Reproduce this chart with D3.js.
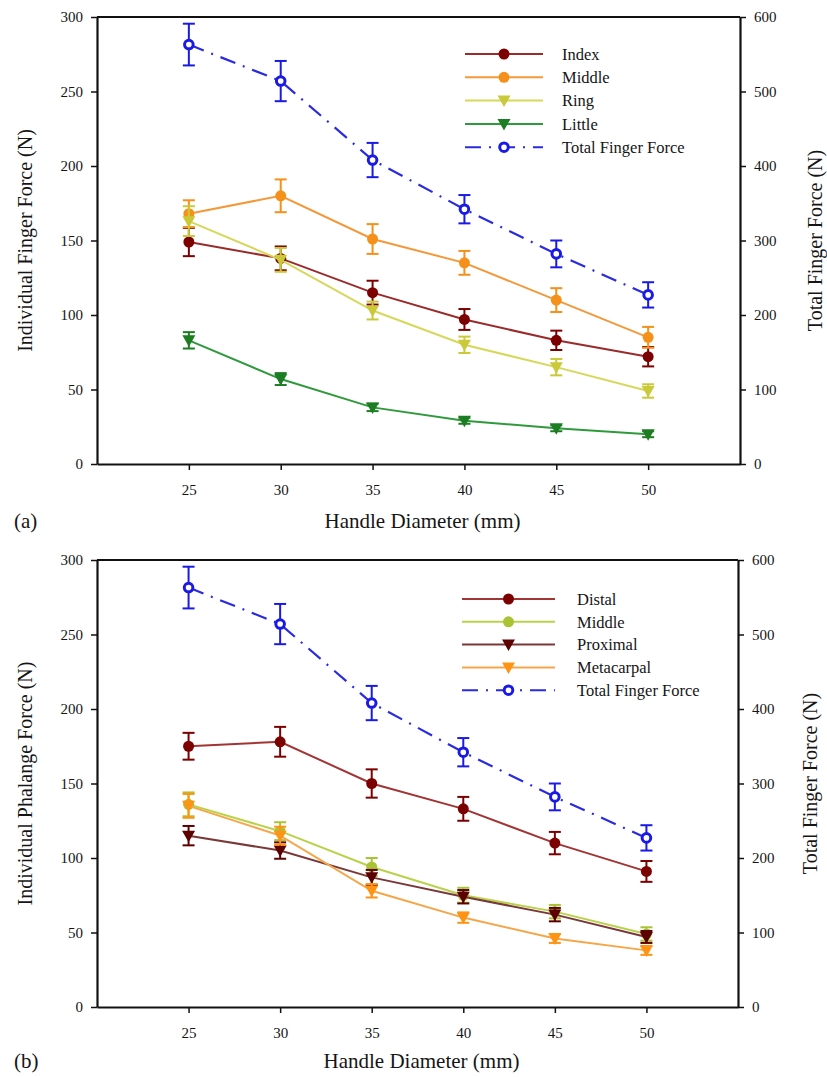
<!DOCTYPE html>
<html>
<head>
<meta charset="utf-8">
<script src="https://cdn.jsdelivr.net/npm/d3@7"></script>
<style>
  body { margin: 0; background: #fff; }
</style>
</head>
<body>
<svg id="chart" width="827" height="1077"></svg>
<script>
// ---- data ----
var diameters = [25, 30, 35, 40, 45, 50];

// panel (a): individual finger forces
var indexForce = [149, 138, 115, 97, 83, 72];
var indexErr = [9.5, 8, 8, 7, 6.5, 6.5];
var middleForce = [168, 180, 151, 135, 110, 85];
var middleErr = [9, 11, 10, 8, 8, 7];
var ringForce = [163, 137, 103, 80, 65, 49];
var ringErr = [10, 8, 6, 5.5, 5.5, 4.5];
var littleForce = [83, 57, 38, 29, 24, 20];
var littleErr = [5.5, 4, 2.5, 2, 2, 2];

// total finger force (right axis, both panels)
var totalForce = [563, 514, 408, 342, 282, 227];
var totalErr = [28, 27, 23, 19, 18, 17];

// panel (b): phalange forces
var distalForce = [175, 178, 150, 133, 110, 91];
var distalErr = [9, 10, 9.5, 8, 7.5, 7];
var middlePhForce = [136, 118, 94, 75, 64, 49];
var middlePhErr = [8, 6, 6, 5, 4.5, 4.5];
var proximalForce = [115, 105, 87, 74, 62, 47];
var proximalErr = [6.5, 5.5, 5, 4.5, 4.5, 4];
var metacarpalForce = [135, 115, 78, 60, 46, 38];
var metacarpalErr = [8, 6, 4.5, 3.5, 3, 3];

var leftTicks = [0, 50, 100, 150, 200, 250, 300];
var rightTicks = [0, 100, 200, 300, 400, 500, 600];

var FONT = "'Liberation Serif', Tinos, 'DejaVu Serif', serif";
var TXT = "#151515";
var svg = d3.select("#chart").attr("font-family", FONT);

function zip(vals, errs) {
  return diameters.map(function (d, i) { return { x: d, y: vals[i], e: errs[i] }; });
}

function panel(cfg) {
  var x = d3.scaleLinear().domain([20, 55]).range([cfg.left, cfg.right]);
  var yL = d3.scaleLinear().domain([0, 300]).range([cfg.bottom, cfg.top]);
  var yR = d3.scaleLinear().domain([0, 600]).range([cfg.bottom, cfg.top]);
  var g = svg.append("g");

  // frame top line
  g.append("line").attr("x1", cfg.left).attr("x2", cfg.right)
    .attr("y1", cfg.top).attr("y2", cfg.top)
    .attr("stroke", "#111").attr("stroke-width", 2);

  var axL = g.append("g").attr("transform", "translate(" + cfg.left + ",0)")
    .call(d3.axisLeft(yL).tickValues(leftTicks).tickSize(6).tickSizeOuter(0).tickPadding(8));
  var axR = g.append("g").attr("transform", "translate(" + cfg.right + ",0)")
    .call(d3.axisRight(yR).tickValues(rightTicks).tickSize(6).tickSizeOuter(0).tickPadding(8));
  var axB = g.append("g").attr("transform", "translate(0," + cfg.bottom + ")")
    .call(d3.axisBottom(x).tickValues(diameters).tickSize(6).tickSizeOuter(0).tickPadding(14));
  [axL, axR, axB].forEach(function (a) {
    a.attr("font-family", FONT).attr("font-size", 15);
    a.select(".domain").attr("stroke", "#111").attr("stroke-width", 2.2);
    a.selectAll(".tick line").attr("stroke", "#111").attr("stroke-width", 1.5);
    a.selectAll(".tick text").attr("fill", TXT);
  });

  // axis titles
  g.append("text").attr("transform", "translate(" + cfg.yTitleX + "," + (cfg.top + cfg.bottom) / 2 + ") rotate(-90)")
    .attr("text-anchor", "middle").attr("dy", "0.35em").attr("font-size", 20).attr("fill", TXT).text(cfg.leftTitle);
  g.append("text").attr("transform", "translate(" + cfg.rTitleX + "," + (cfg.top + cfg.bottom) / 2 + ") rotate(-90)")
    .attr("text-anchor", "middle").attr("dy", "0.35em").attr("font-size", 20).attr("fill", TXT).text("Total Finger Force (N)");
  g.append("text").attr("x", (cfg.left + cfg.right) / 2 + 4).attr("y", cfg.xTitleY)
    .attr("text-anchor", "middle").attr("font-size", 21).attr("fill", TXT).text("Handle Diameter (mm)");
  g.append("text").attr("x", 14).attr("y", cfg.xTitleY)
    .attr("font-size", 21).attr("fill", TXT).text(cfg.tag);

  var line = d3.line().x(function (d) { return x(d.x); });

  function drawSeries(s, yScale) {
    var pts = zip(s.values, s.errs);
    var sg = g.append("g");
    sg.append("path").datum(pts)
      .attr("d", line.y(function (d) { return yScale(d.y); }))
      .attr("fill", "none").attr("stroke", s.line).attr("stroke-width", s.total ? 2.2 : 2)
      .attr("stroke-dasharray", s.total ? "16,8,2,8" : null);
    var eb = sg.selectAll(".eb").data(pts).enter().append("g")
      .attr("stroke", s.marker).attr("stroke-width", 2);
    eb.append("line").attr("x1", function (d) { return x(d.x); }).attr("x2", function (d) { return x(d.x); })
      .attr("y1", function (d) { return yScale(d.y - d.e); }).attr("y2", function (d) { return yScale(d.y + d.e); });
    [-1, 1].forEach(function (sgn) {
      eb.append("line").attr("x1", function (d) { return x(d.x) - 6; }).attr("x2", function (d) { return x(d.x) + 6; })
        .attr("y1", function (d) { return yScale(d.y + sgn * d.e); }).attr("y2", function (d) { return yScale(d.y + sgn * d.e); });
    });
    drawMarkers(sg, pts.map(function (d) { return [x(d.x), yScale(d.y)]; }), s);
  }

  cfg.series.forEach(function (s) { drawSeries(s, yL); });
  drawSeries(cfg.totalSeries, yR);

  // legend
  var all = cfg.series.concat([cfg.totalSeries]);
  var lg = g.append("g");
  all.forEach(function (s, i) {
    var yy = cfg.legY + i * cfg.legStep;
    lg.append("line").attr("x1", cfg.legX1).attr("x2", cfg.legX2).attr("y1", yy).attr("y2", yy)
      .attr("stroke", s.line).attr("stroke-width", 2)
      .attr("stroke-dasharray", s.total ? "16,8,2,8" : null);
    drawMarkers(lg, [[(cfg.legX1 + cfg.legX2) / 2, yy]], s);
    lg.append("text").attr("x", cfg.legTextX).attr("y", yy).attr("dy", "0.35em")
      .attr("font-size", 16.5).attr("fill", TXT).text(s.name);
  });
}

function drawMarkers(sel, pts, s) {
  if (s.shape === "open") {
    sel.selectAll(null).data(pts).enter().append("circle")
      .attr("cx", function (p) { return p[0]; }).attr("cy", function (p) { return p[1]; })
      .attr("r", 4.3).attr("fill", "#fff").attr("stroke", s.marker).attr("stroke-width", 3);
  } else if (s.shape === "circle") {
    sel.selectAll(null).data(pts).enter().append("circle")
      .attr("cx", function (p) { return p[0]; }).attr("cy", function (p) { return p[1]; })
      .attr("r", 5.5).attr("fill", s.marker);
  } else {
    sel.selectAll(null).data(pts).enter().append("path")
      .attr("d", function (p) {
        return "M" + (p[0] - 6.5) + "," + (p[1] - 5) + "L" + (p[0] + 6.5) + "," + (p[1] - 5) + "L" + p[0] + "," + (p[1] + 6.5) + "Z";
      })
      .attr("fill", s.marker);
  }
}

var totalA = { name: "Total Finger Force", values: totalForce, errs: totalErr, line: "#2a2ae0", marker: "#1a1ae6", shape: "open", total: true };

panel({
  left: 97, right: 740, top: 17, bottom: 464,
  yTitleX: 25, rTitleX: 815, xTitleY: 528, tag: "(a)",
  leftTitle: "Individual Finger Force (N)",
  legX1: 465, legX2: 543, legTextX: 562, legY: 54, legStep: 23.3,
  series: [
    { name: "Index", values: indexForce, errs: indexErr, line: "#9b2a2a", marker: "#7d0000", shape: "circle" },
    { name: "Middle", values: middleForce, errs: middleErr, line: "#f4983a", marker: "#f5901a", shape: "circle" },
    { name: "Ring", values: ringForce, errs: ringErr, line: "#d6d85a", marker: "#c9c93a", shape: "tri" },
    { name: "Little", values: littleForce, errs: littleErr, line: "#2f9a3c", marker: "#1d7d22", shape: "tri" }
  ],
  totalSeries: totalA
});

panel({
  left: 97, right: 738, top: 560, bottom: 1007,
  yTitleX: 25, rTitleX: 810, xTitleY: 1068, tag: "(b)",
  leftTitle: "Individual Phalange Force (N)",
  legX1: 462, legX2: 555, legTextX: 577, legY: 599, legStep: 22.8,
  series: [
    { name: "Distal", values: distalForce, errs: distalErr, line: "#a23434", marker: "#7d0000", shape: "circle" },
    { name: "Middle", values: middlePhForce, errs: middlePhErr, line: "#b9d24a", marker: "#aac334", shape: "circle" },
    { name: "Proximal", values: proximalForce, errs: proximalErr, line: "#7a3838", marker: "#5c0000", shape: "tri" },
    { name: "Metacarpal", values: metacarpalForce, errs: metacarpalErr, line: "#f5a648", marker: "#ff9414", shape: "tri" }
  ],
  totalSeries: totalA
});
</script>
</body>
</html>
